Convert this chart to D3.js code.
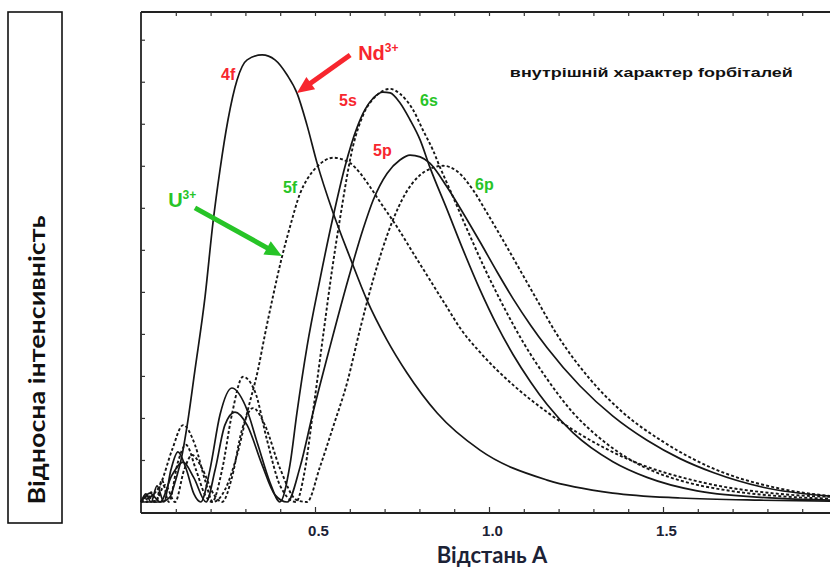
<!DOCTYPE html>
<html>
<head>
<meta charset="utf-8">
<script src="https://cdn.jsdelivr.net/npm/d3@7"></script>
<style>
  body { margin: 0; background: #fff; }
  svg { display: block; }
</style>
</head>
<body>
<svg id="chart" width="830" height="567"></svg>
<script>
// Radial distribution (relative intensity vs distance, Å)
// Nd3+ orbitals (solid lines)
const nd4f = [[0,0],[0.055,0],[0.083,0.011],[0.098,0.045],[0.118,0.105],[0.132,0.168],[0.155,0.295],[0.184,0.459],[0.207,0.626],[0.227,0.743],[0.250,0.855],[0.276,0.944],[0.305,0.989],[0.348,1.0],[0.385,0.989],[0.420,0.955],[0.448,0.915],[0.477,0.843],[0.506,0.758],[0.552,0.647],[0.601,0.546],[0.649,0.452],[0.707,0.362],[0.764,0.289],[0.851,0.199],[0.974,0.116],[1.167,0.049],[1.356,0.020],[1.549,0.009],[1.779,0.004],[2.0,0.002]];
const nd5s = [[0,0],[0.014,0.018],[0.029,0],[0.046,0.036],[0.066,0],[0.086,0.072],[0.106,0.112],[0.129,0.076],[0.152,0.018],[0.172,0],[0.198,0.072],[0.227,0.195],[0.261,0.255],[0.299,0.217],[0.336,0.128],[0.371,0.043],[0.399,0],[0.428,0.083],[0.448,0.199],[0.477,0.347],[0.514,0.497],[0.552,0.638],[0.586,0.750],[0.621,0.838],[0.644,0.878],[0.667,0.903],[0.695,0.917],[0.716,0.915],[0.744,0.893],[0.773,0.855],[0.802,0.810],[0.830,0.749],[0.879,0.655],[0.925,0.565],[0.974,0.475],[1.023,0.395],[1.069,0.330],[1.120,0.268],[1.167,0.218],[1.241,0.155],[1.356,0.090],[1.454,0.055],[1.598,0.025],[1.836,0.008],[2.0,0.004]];
const nd5p = [[0,0],[0.026,0.020],[0.055,0],[0.089,0.060],[0.121,0.089],[0.152,0.054],[0.187,0],[0.213,0.072],[0.241,0.172],[0.270,0.201],[0.305,0.172],[0.348,0.083],[0.385,0.016],[0.420,0],[0.457,0.078],[0.494,0.199],[0.543,0.347],[0.595,0.497],[0.638,0.610],[0.667,0.675],[0.707,0.735],[0.744,0.765],[0.773,0.776],[0.802,0.772],[0.830,0.758],[0.879,0.705],[0.925,0.647],[0.974,0.582],[1.023,0.515],[1.069,0.455],[1.120,0.395],[1.167,0.345],[1.261,0.260],[1.356,0.192],[1.454,0.138],[1.549,0.097],[1.644,0.066],[1.787,0.033],[2.0,0.012]];
// U3+ orbitals (dotted lines)
const u5f = [[0,0],[0.011,0.004],[0.055,0.038],[0.089,0.116],[0.121,0.172],[0.155,0.128],[0.184,0.049],[0.207,0],[0.241,0.027],[0.276,0.105],[0.307,0.206],[0.336,0.295],[0.356,0.374],[0.379,0.459],[0.405,0.548],[0.428,0.615],[0.457,0.690],[0.480,0.725],[0.506,0.750],[0.552,0.770],[0.601,0.758],[0.629,0.736],[0.658,0.705],[0.687,0.671],[0.736,0.615],[0.782,0.557],[0.830,0.497],[0.879,0.436],[0.917,0.389],[0.974,0.335],[1.069,0.262],[1.167,0.201],[1.261,0.152],[1.405,0.094],[1.606,0.045],[1.836,0.018],[2.0,0.011]];
const u6s = [[0,0],[0.009,0.011],[0.017,0],[0.029,0.022],[0.043,0],[0.060,0.049],[0.080,0],[0.106,0.089],[0.129,0.128],[0.158,0.072],[0.184,0.016],[0.204,0],[0.233,0.072],[0.261,0.195],[0.293,0.280],[0.328,0.246],[0.362,0.139],[0.399,0.038],[0.445,0],[0.471,0.072],[0.494,0.200],[0.523,0.370],[0.549,0.519],[0.572,0.635],[0.609,0.795],[0.638,0.865],[0.678,0.910],[0.716,0.924],[0.744,0.913],[0.782,0.877],[0.810,0.832],[0.839,0.787],[0.859,0.749],[0.888,0.698],[0.937,0.610],[0.983,0.530],[1.040,0.440],[1.100,0.355],[1.167,0.275],[1.241,0.200],[1.300,0.155],[1.356,0.120],[1.454,0.075],[1.550,0.048],[1.693,0.025],[1.836,0.013],[2.0,0.007]];
const u6p = [[0,0],[0.020,0.013],[0.040,0],[0.069,0.038],[0.098,0],[0.124,0.072],[0.147,0.105],[0.175,0.076],[0.210,0.016],[0.233,0],[0.261,0.054],[0.290,0.161],[0.322,0.210],[0.356,0.172],[0.399,0.076],[0.448,0.004],[0.477,0],[0.514,0.078],[0.552,0.168],[0.592,0.266],[0.629,0.385],[0.667,0.497],[0.721,0.625],[0.760,0.690],[0.800,0.730],[0.830,0.745],[0.868,0.752],[0.908,0.740],[0.954,0.698],[0.994,0.647],[1.040,0.586],[1.089,0.519],[1.132,0.460],[1.195,0.375],[1.290,0.275],[1.385,0.200],[1.500,0.135],[1.644,0.075],[1.836,0.030],[2.0,0.012]];

const xMajorTicks = [0.5, 1.0, 1.5];
const xTickLabels = ["0.5", "1.0", "1.5"];
const xMinorTicks = [0.1,0.2,0.3,0.4,0.6,0.7,0.8,0.9,1.1,1.2,1.3,1.4,1.6,1.7,1.8,1.9];
const yTicks = [0.094,0.188,0.282,0.376,0.470,0.564,0.658,0.752,0.846,0.940,1.034];

const series = [
  { name: "4f", data: nd4f, dotted: false },
  { name: "5s", data: nd5s, dotted: false },
  { name: "5p", data: nd5p, dotted: false },
  { name: "5f", data: u5f, dotted: true },
  { name: "6s", data: u6s, dotted: true },
  { name: "6p", data: u6p, dotted: true }
];

const RED = "#f7262e", GREEN = "#27c427";

const svg = d3.select("#chart");
const x = d3.scaleLinear().domain([0, 2]).range([141, 837]);
const y = d3.scaleLinear().domain([-0.0246, 1.096]).range([513, 12]);

// frame
const frame = svg.append("g").attr("stroke", "#222").attr("stroke-width", 1.8).attr("fill", "none");
frame.append("line").attr("x1", x(0)).attr("x2", 830).attr("y1", y.range()[1]).attr("y2", y.range()[1]);
frame.append("line").attr("x1", x(0)).attr("x2", 830).attr("y1", y.range()[0]).attr("y2", y.range()[0]);
frame.append("line").attr("x1", x(0)).attr("x2", x(0)).attr("y1", y.range()[1]).attr("y2", y.range()[0]);

// inward ticks
function styleAxis(g) {
  g.select(".domain").remove();
  g.selectAll(".tick line").attr("stroke", "#333").attr("stroke-width", 1.2);
}
svg.append("g").attr("transform", `translate(0,${y.range()[0]})`)
  .call(d3.axisBottom(x).tickValues(xMinorTicks).tickSize(-4).tickFormat(""))
  .call(styleAxis);
svg.append("g").attr("transform", `translate(0,${y.range()[1]})`)
  .call(d3.axisTop(x).tickValues(xMinorTicks.concat(xMajorTicks)).tickSize(-4).tickFormat(""))
  .call(styleAxis);
svg.append("g").attr("transform", `translate(${x(0)},0)`)
  .call(d3.axisLeft(y).tickValues(yTicks).tickSize(-4).tickFormat(""))
  .call(styleAxis);
const xAx = svg.append("g").attr("transform", `translate(0,${y.range()[0]})`)
  .call(d3.axisBottom(x).tickValues(xMajorTicks).tickSize(-6).tickPadding(12)
    .tickFormat((d, i) => xTickLabels[i]))
  .call(styleAxis);
xAx.selectAll(".tick text")
  .attr("fill", "#1c2236")
  .attr("font-family", "'Liberation Sans Narrow', 'Liberation Sans', Arial, sans-serif")
  .attr("font-weight", "bold")
  .attr("font-size", 15)
  .attr("dx", 3);

// curves
const line = d3.line().x(d => x(d[0])).y(d => y(d[1])).curve(d3.curveMonotoneX);
svg.append("g").selectAll("path").data(series).join("path")
  .attr("d", d => line(d.data))
  .attr("fill", "none")
  .attr("stroke", "#161616")
  .attr("stroke-width", d => d.dotted ? 1.9 : 1.7)
  .attr("stroke-dasharray", d => d.dotted ? "3,2.2" : null)
  .attr("stroke-linejoin", "round");

// arrows
function arrow(from, to, color) {
  const x1 = x(from[0]), y1 = y(from[1]), x2 = x(to[0]), y2 = y(to[1]);
  const dx = x2 - x1, dy = y2 - y1, L = Math.hypot(dx, dy);
  const ux = dx / L, uy = dy / L, px = -uy, py = ux;
  const headLen = 17, headW = 15;
  const bx = x2 - ux * headLen, by = y2 - uy * headLen;
  svg.append("line").attr("x1", x1).attr("y1", y1).attr("x2", bx + ux * 2).attr("y2", by + uy * 2)
    .attr("stroke", color).attr("stroke-width", 5);
  svg.append("path")
    .attr("d", `M${x2},${y2}L${bx + px * headW / 2},${by + py * headW / 2}L${bx - px * headW / 2},${by - py * headW / 2}Z`)
    .attr("fill", color);
}
arrow([0.601, 1.0], [0.448, 0.915], RED);
arrow([0.155, 0.658], [0.405, 0.550], GREEN);

// orbital labels
const labelFont = "'Liberation Sans', Arial, sans-serif";
const orbitalLabels = [
  { t: "4f", at: [0.230, 0.944], c: RED },
  { t: "5s", at: [0.569, 0.886], c: RED },
  { t: "6s", at: [0.802, 0.886], c: GREEN },
  { t: "5p", at: [0.667, 0.774], c: RED },
  { t: "6p", at: [0.960, 0.698], c: GREEN },
  { t: "5f", at: [0.408, 0.691], c: GREEN }
];
svg.append("g").selectAll("text").data(orbitalLabels).join("text")
  .attr("x", d => x(d.at[0])).attr("y", d => y(d.at[1]))
  .attr("fill", d => d.c)
  .attr("font-family", labelFont).attr("font-weight", "bold").attr("font-size", 16)
  .text(d => d.t);

// ion labels
function ionLabel(base, at, color) {
  const t = svg.append("text").attr("x", x(at[0])).attr("y", y(at[1]))
    .attr("fill", color).attr("font-family", labelFont).attr("font-weight", "bold").attr("font-size", 20);
  t.append("tspan").text(base);
  t.append("tspan").attr("font-size", 12).attr("dy", -8).text("3+");
}
ionLabel("Nd", [0.624, 0.989], RED);
ionLabel("U", [0.078, 0.660], GREEN);

// note
svg.append("text")
  .attr("x", x(1.060)).attr("y", y(0.951))
  .attr("font-family", labelFont).attr("font-weight", "bold").attr("font-size", 13)
  .attr("fill", "#111")
  .attr("textLength", 283).attr("lengthAdjust", "spacingAndGlyphs")
  .text("внутрішній характер fорбіталей");

// axis titles
svg.append("text")
  .attr("x", 492).attr("y", 563)
  .attr("text-anchor", "middle")
  .attr("font-family", "Lato, 'Open Sans', sans-serif").attr("font-weight", "bold").attr("font-size", 22)
  .attr("fill", "#1c2236")
  .text("Відстань А");

svg.append("rect").attr("x", 8).attr("y", 12).attr("width", 54).attr("height", 511)
  .attr("fill", "none").attr("stroke", "#111").attr("stroke-width", 1.6);
svg.append("text")
  .attr("transform", "translate(45,360) rotate(-90)")
  .attr("text-anchor", "middle")
  .attr("font-family", "Lato, 'Open Sans', sans-serif").attr("font-weight", "bold").attr("font-size", 22)
  .attr("fill", "#111")
  .attr("textLength", 289).attr("lengthAdjust", "spacingAndGlyphs")
  .text("Відносна інтенсивність");
</script>
</body>
</html>
